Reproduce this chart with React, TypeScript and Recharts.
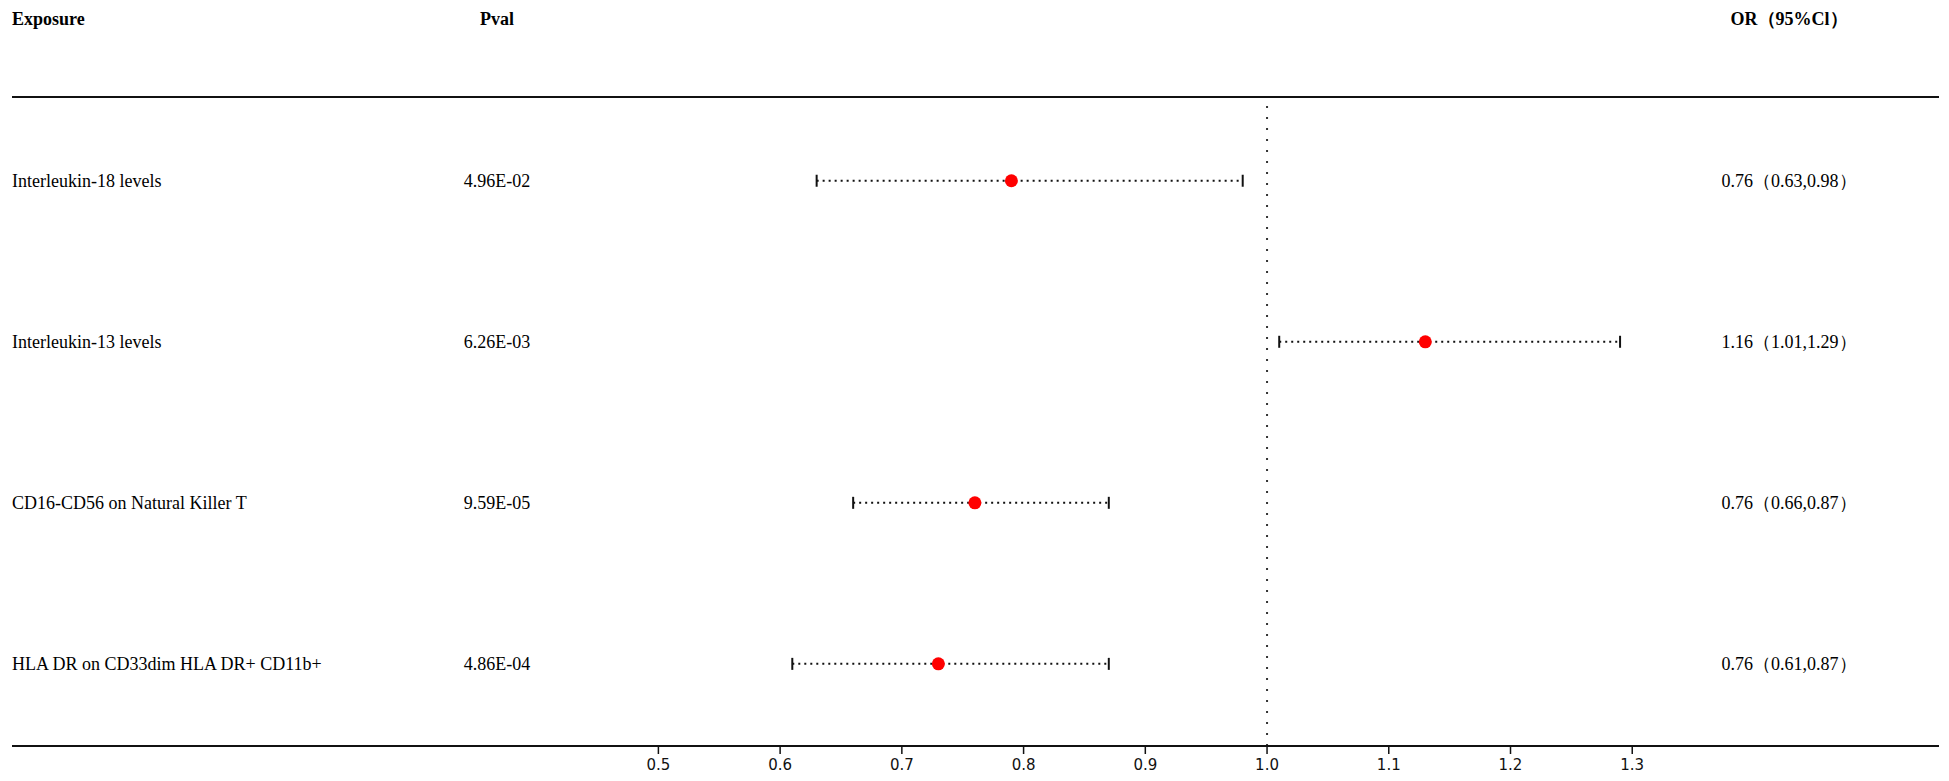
import { ComposedChart, Scatter, XAxis, YAxis, ReferenceLine } from "recharts";

// forest plot data, rows top to bottom
const rows = [1, 2, 3, 4];
const exposures = [
  "Interleukin-18 levels",
  "Interleukin-13 levels",
  "CD16-CD56 on Natural Killer T",
  "HLA DR on CD33dim HLA DR+ CD11b+",
];
const pvals = ["4.96E-02", "6.26E-03", "9.59E-05", "4.86E-04"];
const orLabels = [
  "0.76（0.63,0.98）",
  "1.16（1.01,1.29）",
  "0.76（0.66,0.87）",
  "0.76（0.61,0.87）",
];
const orValues = [0.79, 1.13, 0.76, 0.73];
const ciLower = [0.63, 1.01, 0.66, 0.61];
const ciUpper = [0.98, 1.29, 0.87, 0.87];
const xTicks = [0.5, 0.6, 0.7, 0.8, 0.9, 1.0, 1.1, 1.2, 1.3];

const points = rows.map((row, i) => ({ x: orValues[i], row }));
const intervals = rows.map((row, i) => [
  { x: ciLower[i], row },
  { x: ciUpper[i], row },
]);
// anchor rows for the table text (x is only used to place the row)
const tableRows = rows.map((row) => ({ x: 1, row }));

const rowDomain = [0.48, 4.51];
const serif = "'Liberation Serif', 'Times New Roman', serif";

const RowText = (props: any) => {
  const i = props.index;
  const common = { y: props.cy, dy: "0.35em", fontSize: 18, fontFamily: serif, fill: "#000" };
  return (
    <g>
      <text x={12} {...common}>{exposures[i]}</text>
      <text x={497} textAnchor="middle" {...common}>{pvals[i]}</text>
      <text x={1789} textAnchor="middle" {...common}>{orLabels[i]}</text>
    </g>
  );
};

const Cap = (props: any) => (
  <line x1={props.cx} x2={props.cx} y1={props.cy - 6} y2={props.cy + 6} stroke="#111" strokeWidth={2} />
);

const Dot = (props: any) => <circle cx={props.cx} cy={props.cy} r={6.5} fill="#f00" />;

const header = (left: number, text: string, center = false) => (
  <div
    style={{
      position: "absolute",
      left,
      top: 19,
      transform: center ? "translate(-50%, -50%)" : "translateY(-50%)",
      fontFamily: serif,
      fontWeight: "bold",
      fontSize: 18,
      whiteSpace: "nowrap",
    }}
  >
    {text}
  </div>
);

export default function App() {
  return (
    <div style={{ position: "absolute", left: 0, top: 0, width: 1949, height: 781, background: "#fff" }}>
      {header(12, "Exposure")}
      {header(497, "Pval", true)}
      {header(1789, "OR（95%Cl）", true)}
      <ComposedChart width={1949} height={781} margin={{ top: 97, right: 10, bottom: 5, left: 12 }}>
        <XAxis
          type="number"
          dataKey="x"
          domain={[-0.031, 1.552]}
          ticks={xTicks}
          tickFormatter={(v: number) => v.toFixed(1)}
          height={30}
          axisLine={{ stroke: "#111", strokeWidth: 2 }}
          tickLine={{ stroke: "#111", strokeWidth: 1.5 }}
          tickSize={8}
          tickMargin={5}
          tick={{ fontSize: 15, fontFamily: "'DejaVu Sans', sans-serif", fill: "#111" }}
        />
        <YAxis type="number" dataKey="row" domain={rowDomain} reversed hide />
        <ReferenceLine y={rowDomain[0]} stroke="#111" strokeWidth={2} />
        <ReferenceLine x={1} stroke="#333" strokeWidth={2} strokeDasharray="2 9" />
        {intervals.map((seg, i) => (
          <Scatter
            key={i}
            data={seg}
            fill="#111"
            line={{ stroke: "#111", strokeWidth: 2, strokeDasharray: "2 4" }}
            shape={Cap}
            isAnimationActive={false}
          />
        ))}
        <Scatter data={points} fill="#f00" shape={Dot} isAnimationActive={false} />
        <Scatter data={tableRows} shape={RowText} isAnimationActive={false} />
      </ComposedChart>
    </div>
  );
}
